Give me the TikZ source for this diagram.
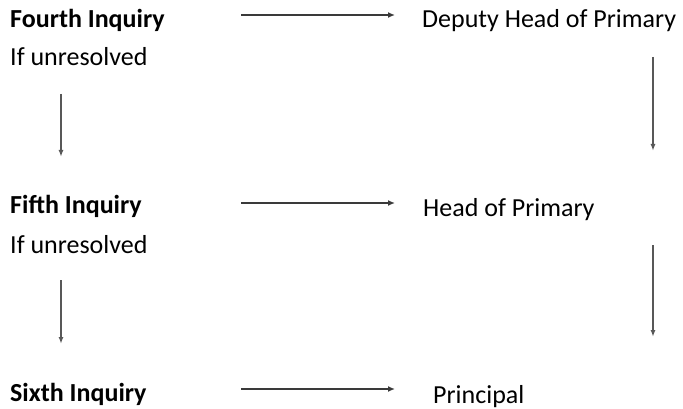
\documentclass[tikz,border=0pt]{standalone}
\usepackage{fontspec}
\setmainfont{Carlito}
\usetikzlibrary{arrows.meta}
\definecolor{arr}{HTML}{3A3A3A}
\begin{document}
\begin{tikzpicture}[x=1pt,y=-1pt,
  lbl/.style={anchor=base west,inner sep=0pt,font=\fontsize{26}{30}\selectfont},
  hlbl/.style={lbl,font=\fontsize{26}{30}\selectfont\bfseries},
  harrow/.style={draw=arr,line width=2.9pt,-{Latex[length=7pt,width=6pt]}},
  varrow/.style={draw=arr!85,line width=1.6pt,-{Latex[length=7pt,width=5pt]}}]
\useasboundingbox (0,0) rectangle (683,409);
% left column
\node[hlbl] (q4) at (10,28) {Fourth Inquiry};
\node[lbl] (u4) at (10,66) {If unresolved};
\node[hlbl] (q5) at (10,213) {Fifth Inquiry};
\node[lbl] (u5) at (10,253) {If unresolved};
\node[hlbl] (q6) at (10,401) {Sixth Inquiry};
% right column
\node[lbl] (r4) at (422,28) {Deputy Head of Primary};
\node[lbl] (r5) at (423,216) {Head of Primary};
\node[lbl] (r6) at (433,403) {Principal};
% arrow ends
\coordinate (h4a) at (241,15); \coordinate (h4b) at (395,15);
\coordinate (h5a) at (241,203); \coordinate (h5b) at (395,203);
\coordinate (h6a) at (241,389); \coordinate (h6b) at (395,389);
\coordinate (l4a) at (61,94); \coordinate (l4b) at (61,157);
\coordinate (l5a) at (61,280); \coordinate (l5b) at (61,344);
\coordinate (r4a) at (653,57); \coordinate (r4b) at (653,151);
\coordinate (r5a) at (653,245); \coordinate (r5b) at (653,337);
\draw[harrow] (h4a) -- (h4b);
\draw[harrow] (h5a) -- (h5b);
\draw[harrow] (h6a) -- (h6b);
\draw[varrow] (l4a) -- (l4b);
\draw[varrow] (l5a) -- (l5b);
\draw[varrow] (r4a) -- (r4b);
\draw[varrow] (r5a) -- (r5b);
\end{tikzpicture}
\end{document}
